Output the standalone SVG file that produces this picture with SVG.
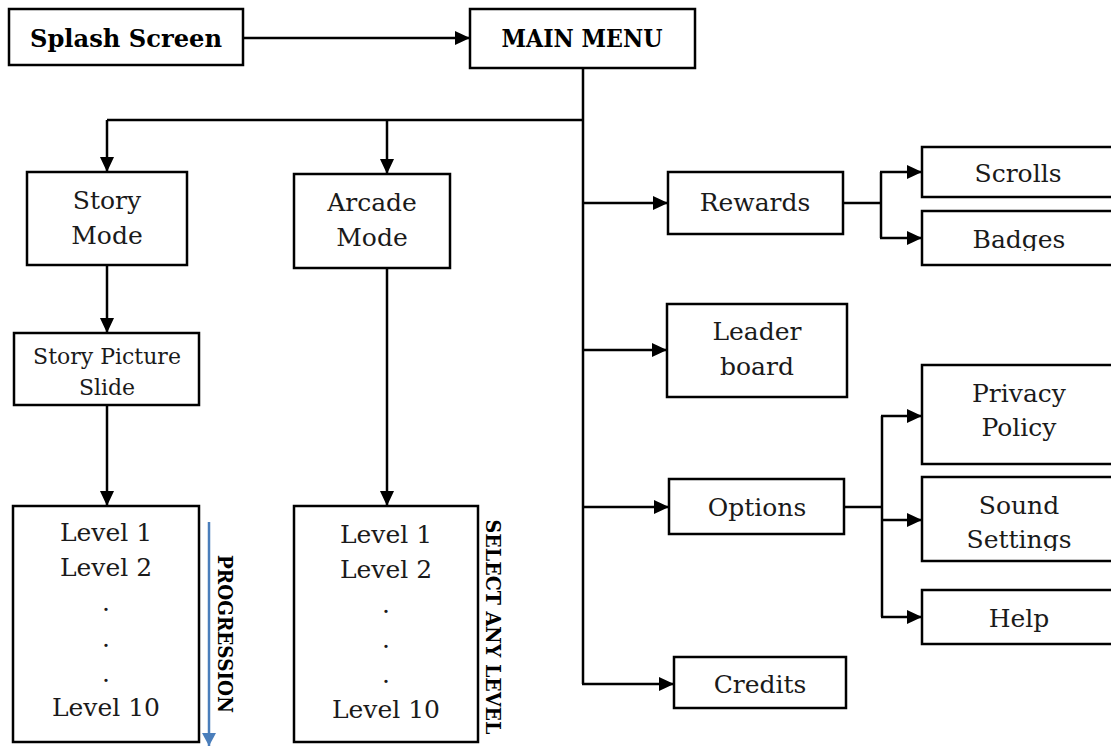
<svg xmlns="http://www.w3.org/2000/svg" width="1111" height="747" viewBox="0 0 1111 747">
  <style>
    .box { fill: #ffffff; stroke: #000000; stroke-width: 2.5; }
    .lbl { font-family: "DejaVu Serif", "Liberation Serif", serif; font-size: 25px; fill: #1a1a1a; text-anchor: middle; }
    .sm { font-size: 22px; }
    .bold { font-weight: bold; fill: #000000; }
    .side { font-family: "DejaVu Serif", "Liberation Serif", serif; font-size: 21px; font-weight: bold; fill: #000000; text-anchor: middle; }
    .wire { fill: none; stroke: #000000; stroke-width: 2.5; }
    .flow { fill: none; stroke: #000000; stroke-width: 2.5; marker-end: url(#head); }
  </style>
  <defs>
    <marker id="head" markerUnits="userSpaceOnUse" markerWidth="16" markerHeight="14" refX="15" refY="7" orient="auto">
      <path d="M0,0 L15,7 L0,14 Z" fill="#000000"/>
    </marker>
    <marker id="blueHead" markerUnits="userSpaceOnUse" markerWidth="14" markerHeight="14" refX="13" refY="7" orient="auto">
      <path d="M0,0 L13,7 L0,14 Z" fill="#4a7ebb"/>
    </marker>
    <clipPath id="clipBadges"><rect x="922" y="211" width="200" height="40"/></clipPath>
    <clipPath id="clipSound"><rect x="922" y="477" width="200" height="74"/></clipPath>
  </defs>

  <!-- connectors -->
  <g id="connectors">
    <line class="flow" x1="243" y1="38" x2="470" y2="38"/>
    <polyline class="wire" points="583,68 583,684"/>
    <polyline class="wire" points="107,120 583,120"/>
    <line class="flow" x1="107" y1="120" x2="107" y2="172"/>
    <line class="flow" x1="387" y1="120" x2="387" y2="174"/>
    <line class="flow" x1="107" y1="265" x2="107" y2="333"/>
    <line class="flow" x1="107" y1="405" x2="107" y2="506"/>
    <line class="flow" x1="387" y1="268" x2="387" y2="506"/>
    <line class="flow" x1="583" y1="203" x2="668" y2="203"/>
    <line class="flow" x1="583" y1="350" x2="667" y2="350"/>
    <line class="flow" x1="583" y1="507" x2="669" y2="507"/>
    <line class="flow" x1="582" y1="684" x2="674" y2="684"/>
    <polyline class="wire" points="843,203 881,203"/>
    <polyline class="wire" points="881,172 881,238"/>
    <line class="flow" x1="880" y1="172" x2="922" y2="172"/>
    <line class="flow" x1="880" y1="238" x2="922" y2="238"/>
    <polyline class="wire" points="844,507 882,507"/>
    <polyline class="wire" points="882,416 882,617"/>
    <line class="flow" x1="881" y1="416" x2="922" y2="416"/>
    <line class="flow" x1="881" y1="520" x2="922" y2="520"/>
    <line class="flow" x1="881" y1="617" x2="922" y2="617"/>
    <line x1="209" y1="522" x2="209" y2="746" stroke="#4a7ebb" stroke-width="2.5" marker-end="url(#blueHead)"/>
  </g>

  <g id="splash">
    <rect class="box" x="9" y="9" width="234" height="56"/>
    <text class="lbl bold" x="126" y="47" font-size="26" textLength="192" lengthAdjust="spacingAndGlyphs">Splash Screen</text>
  </g>
  <g id="main-menu">
    <rect class="box" x="470" y="9" width="225" height="59"/>
    <text class="lbl bold" x="582" y="47" font-size="26" textLength="161" lengthAdjust="spacingAndGlyphs">MAIN MENU</text>
  </g>

  <g id="story-mode">
    <rect class="box" x="27" y="172" width="160" height="93"/>
    <text class="lbl" x="107" y="209">Story</text>
    <text class="lbl" x="107" y="244">Mode</text>
  </g>
  <g id="arcade-mode">
    <rect class="box" x="294" y="174" width="156" height="94"/>
    <text class="lbl" x="372" y="211">Arcade</text>
    <text class="lbl" x="372" y="246">Mode</text>
  </g>
  <g id="story-picture-slide">
    <rect class="box" x="14" y="333" width="185" height="72"/>
    <text class="lbl sm" x="107" y="364">Story Picture</text>
    <text class="lbl sm" x="107" y="395">Slide</text>
  </g>

  <g id="story-levels">
    <rect class="box" x="13" y="506" width="186" height="236"/>
    <text class="lbl" x="106" y="541">Level 1</text>
    <text class="lbl" x="106" y="576">Level 2</text>
    <text class="lbl" x="106" y="611">.</text>
    <text class="lbl" x="106" y="647">.</text>
    <text class="lbl" x="106" y="682">.</text>
    <text class="lbl" x="106" y="716">Level 10</text>
    <text class="side" transform="translate(218,634) rotate(90)" textLength="158" lengthAdjust="spacingAndGlyphs">PROGRESSION</text>
  </g>

  <g id="arcade-levels">
    <rect class="box" x="294" y="506" width="184" height="236"/>
    <text class="lbl" x="386" y="543">Level 1</text>
    <text class="lbl" x="386" y="578">Level 2</text>
    <text class="lbl" x="386" y="613">.</text>
    <text class="lbl" x="386" y="648">.</text>
    <text class="lbl" x="386" y="683">.</text>
    <text class="lbl" x="386" y="718">Level 10</text>
    <text class="side" transform="translate(486,627) rotate(90)" textLength="215" lengthAdjust="spacingAndGlyphs">SELECT ANY LEVEL</text>
  </g>

  <g id="rewards">
    <rect class="box" x="668" y="172" width="175" height="62"/>
    <text class="lbl" x="755" y="211">Rewards</text>
  </g>
  <g id="scrolls">
    <rect class="box" x="922" y="147" width="200" height="50"/>
    <text class="lbl" x="1018" y="182">Scrolls</text>
  </g>
  <g id="badges">
    <rect class="box" x="922" y="211" width="200" height="54"/>
    <text class="lbl" x="1019" y="248" clip-path="url(#clipBadges)">Badges</text>
  </g>

  <g id="leaderboard">
    <rect class="box" x="667" y="304" width="180" height="93"/>
    <text class="lbl" x="757" y="340">Leader</text>
    <text class="lbl" x="757" y="375">board</text>
  </g>

  <g id="options">
    <rect class="box" x="669" y="479" width="175" height="55"/>
    <text class="lbl" x="757" y="516">Options</text>
  </g>
  <g id="privacy-policy">
    <rect class="box" x="922" y="365" width="200" height="99"/>
    <text class="lbl" x="1019" y="402">Privacy</text>
    <text class="lbl" x="1019" y="436">Policy</text>
  </g>
  <g id="sound-settings">
    <rect class="box" x="922" y="477" width="200" height="84"/>
    <g clip-path="url(#clipSound)">
      <text class="lbl" x="1019" y="514">Sound</text>
      <text class="lbl" x="1019" y="548">Settings</text>
    </g>
  </g>
  <g id="help">
    <rect class="box" x="922" y="590" width="200" height="54"/>
    <text class="lbl" x="1019" y="627">Help</text>
  </g>

  <g id="credits">
    <rect class="box" x="674" y="657" width="172" height="51"/>
    <text class="lbl" x="760" y="693">Credits</text>
  </g>
</svg>
